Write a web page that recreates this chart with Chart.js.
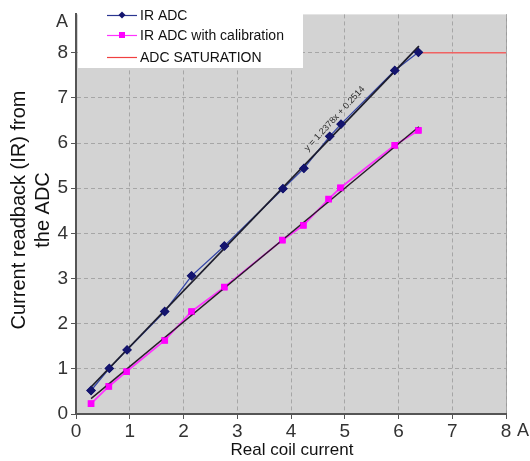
<!DOCTYPE html>
<html>
<head>
<meta charset="utf-8">
<script src="https://cdn.jsdelivr.net/npm/chart.js@4/dist/chart.umd.min.js"></script>
<style>
html,body{margin:0;padding:0;background:#fff;}
#wrap{width:530px;height:461px;position:relative;}
</style>
</head>
<body>
<div id="wrap"><canvas id="c" width="530" height="461"></canvas></div>
<script>
// ---- data ----
const adcX = [0.28, 0.62, 0.95, 1.65, 2.15, 2.76, 3.85, 4.24, 4.72, 4.93, 5.93, 6.37];
const adcY = [0.52, 1.01, 1.42, 2.27, 3.06, 3.72, 4.99, 5.44, 6.15, 6.42, 7.61, 8.01];
const calX = [0.28, 0.61, 0.94, 1.65, 2.15, 2.76, 3.84, 4.23, 4.70, 4.92, 5.93, 6.37];
const calY = [0.23, 0.61, 0.94, 1.63, 2.27, 2.81, 3.85, 4.18, 4.76, 5.01, 5.95, 6.28];
const satX = [6.37, 8];
const satY = [8, 8];
const trendRange = [0.28, 6.38];
const adcTrend = [1.2378, 0.2514];   // slope, intercept (label on chart)
const calTrend = [0.987, 0.064];     // slope, intercept (estimated)
const trendLabel = 'y = 1.2378x + 0.2514';
const xTicks = [0, 1, 2, 3, 4, 5, 6, 7, 8];
const yTicks = [0, 1, 2, 3, 4, 5, 6, 7, 8];
const seriesNames = ['IR ADC', 'IR ADC with calibration', 'ADC SATURATION'];
const xTitle = 'Real coil current';
const yTitle = ['Current readback (IR) from', 'the ADC'];
const unit = 'A';

const pts = (xs, ys) => xs.map((x, i) => ({x, y: ys[i]}));
const trendPts = (c) => trendRange.map(x => ({x, y: c[0] * x + c[1]}));

const FONT = "'Liberation Sans', Arial, sans-serif";

const bgPlugin = {
  id: 'bg',
  beforeDraw(chart) {
    const {ctx, chartArea: a} = chart;
    ctx.save();
    ctx.fillStyle = '#d3d3d3';
    ctx.fillRect(a.left, a.top, a.right - a.left, a.bottom - a.top);
    ctx.strokeStyle = '#9a9a9a';
    ctx.lineWidth = 1;
    ctx.beginPath();
    ctx.moveTo(a.right + 0.5, a.top);
    ctx.lineTo(a.right + 0.5, a.bottom);
    ctx.stroke();
    ctx.restore();
  }
};

const decoPlugin = {
  id: 'deco',
  afterDraw(chart) {
    const {ctx, chartArea: a, scales: {x, y}} = chart;
    ctx.save();
    // trend label
    const lx = x.getPixelForValue(4.81), ly = y.getPixelForValue(6.54);
    const ang = Math.atan2(y.getPixelForValue(adcTrend[0]) - y.getPixelForValue(0), x.getPixelForValue(1) - x.getPixelForValue(0));
    ctx.translate(lx, ly);
    ctx.rotate(ang - 0.02);
    ctx.fillStyle = '#2a2a2a';
    ctx.font = '9px ' + FONT;
    ctx.textAlign = 'center';
    ctx.textBaseline = 'middle';
    ctx.fillText(trendLabel, 0, 0);
    ctx.restore();

    // legend box
    ctx.save();
    ctx.fillStyle = '#ffffff';
    ctx.fillRect(a.left + 2, 0, 303 - a.left - 2, 68);
    const rows = [15, 35, 57];
    const cols = [
      {c: '#2a3590', m: 'diamond', mc: '#14146e'},
      {c: '#ff33ff', m: 'square', mc: '#ff00ff'},
      {c: '#f04040', m: null}
    ];
    ctx.font = '14px ' + FONT;
    ctx.textBaseline = 'middle';
    ctx.textAlign = 'left';
    rows.forEach((ry, i) => {
      ctx.strokeStyle = cols[i].c;
      ctx.lineWidth = 1.2;
      ctx.beginPath();
      ctx.moveTo(107, ry + 0.5);
      ctx.lineTo(137, ry + 0.5);
      ctx.stroke();
      ctx.fillStyle = cols[i].mc || cols[i].c;
      if (cols[i].m === 'diamond') {
        ctx.beginPath();
        ctx.moveTo(122, ry - 3.5); ctx.lineTo(125.5, ry); ctx.lineTo(122, ry + 3.5); ctx.lineTo(118.5, ry);
        ctx.closePath(); ctx.fill();
      } else if (cols[i].m === 'square') {
        ctx.fillRect(119, ry - 3, 6, 6);
      }
      ctx.fillStyle = '#111';
      ctx.fillText(seriesNames[i], 140, ry + 1);
    });
    ctx.restore();

    // axis titles & units
    ctx.save();
    ctx.fillStyle = '#111';
    ctx.textAlign = 'center';
    ctx.textBaseline = 'middle';
    ctx.font = '17px ' + FONT;
    ctx.fillText(xTitle, 292, 450);
    ctx.font = '18px ' + FONT;
    ctx.fillStyle = '#333';
    ctx.fillText(unit, 523, 431);
    ctx.fillText(unit, 62, 22);
    ctx.fillStyle = '#111';
    ctx.font = '20px ' + FONT;
    ctx.translate(19, 210);
    ctx.rotate(-Math.PI / 2);
    ctx.fillText(yTitle[0], 0, 0);
    ctx.fillText(yTitle[1], 0, 24);
    ctx.restore();
  }
};

const adcMarker = {pointStyle: 'rectRot', pointRadius: 4, pointBackgroundColor: '#14146e', pointBorderColor: '#14146e'};
const calMarker = {pointStyle: 'rect', pointRadius: 3.5, pointBackgroundColor: '#ff00ff', pointBorderColor: '#ff00ff'};

new Chart(document.getElementById('c'), {
  type: 'scatter',
  data: {
    datasets: [
      Object.assign({
        label: seriesNames[0], data: pts(adcX, adcY), showLine: true,
        borderColor: '#3546a8', borderWidth: 1.3, order: 3
      }, adcMarker),
      Object.assign({
        label: seriesNames[1], data: pts(calX, calY), showLine: true,
        borderColor: '#ff33ff', borderWidth: 1.8, order: 3
      }, calMarker),
      {
        label: seriesNames[2], data: pts(satX, satY), showLine: true,
        borderColor: '#f06262', borderWidth: 1.5, pointRadius: 0, order: 3
      },
      {
        label: 'trend1', data: trendPts(adcTrend), showLine: true,
        borderColor: '#1c1c2c', borderWidth: 1.8, pointRadius: 0, order: 2
      },
      {
        label: 'trend2', data: trendPts(calTrend), showLine: true,
        borderColor: '#2a1a2a', borderWidth: 1.4, pointRadius: 0, order: 2
      },
      Object.assign({label: seriesNames[0] + ' markers', data: pts(adcX, adcY), showLine: false, order: 1}, adcMarker),
      Object.assign({label: seriesNames[1] + ' markers', data: pts(calX, calY), showLine: false, order: 1}, calMarker)
    ]
  },
  options: {
    responsive: false,
    animation: false,
    events: [],
    layout: {padding: {top: 5, right: 24, left: 0, bottom: 0}},
    plugins: {legend: {display: false}, tooltip: {enabled: false}},
    scales: {
      x: {
        type: 'linear', min: 0, max: 8,
        afterFit: s => { s.height = 47; },
        afterBuildTicks: s => { s.ticks = xTicks.map(v => ({value: v})); },
        border: {color: '#555', width: 2, dash: [4, 3]},
        grid: {color: '#a6a6a6', tickColor: '#555', tickLength: 5, tickBorderDash: [], drawTicks: true},
        ticks: {color: '#333', font: {size: 19, family: FONT}, padding: 1, maxRotation: 0}
      },
      y: {
        type: 'linear', min: 0, max: 8.85,
        afterFit: s => { s.width = 76; },
        afterBuildTicks: s => { s.ticks = yTicks.map(v => ({value: v})); },
        border: {color: '#555', width: 2, dash: [4, 3]},
        grid: {color: '#a6a6a6', tickColor: '#555', tickLength: 5, tickBorderDash: []},
        ticks: {color: '#333', font: {size: 19, family: FONT}, padding: 3}
      }
    }
  },
  plugins: [bgPlugin, decoPlugin]
});
</script>
</body>
</html>
